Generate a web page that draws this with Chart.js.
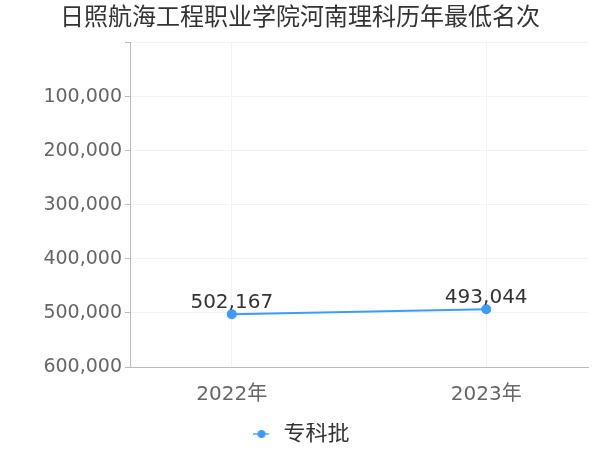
<!DOCTYPE html>
<html>
<head>
<meta charset="utf-8">
<script src="https://cdn.jsdelivr.net/npm/chart.js@4/dist/chart.umd.min.js"></script>
<style>
    html, body { margin: 0; padding: 0; background: #fff; }
    #wrap { width: 600px; height: 450px; }
</style>
</head>
<body>
<div id="wrap"><canvas id="rankChart" width="600" height="450"></canvas></div>
<script>
const titleText = '日照航海工程职业学院河南理科历年最低名次';
const years = ['2022年', '2023年'];
const seriesName = '专科批';
const minRanks = [502167, 493044];
const yTicks = [0, 100000, 200000, 300000, 400000, 500000, 600000];

const fontFamily = '"DejaVu Sans", "Noto Sans CJK SC", sans-serif';
const blue = '#3d9bff';

// legend marker: short line with a dot in the middle
const legendMark = document.createElement('canvas');
legendMark.width = 16;
legendMark.height = 10;
(function () {
    const c = legendMark.getContext('2d');
    c.strokeStyle = '#7cbcff';
    c.lineWidth = 2;
    c.beginPath();
    c.moveTo(0, 5);
    c.lineTo(16, 5);
    c.stroke();
    c.fillStyle = blue;
    c.beginPath();
    c.arc(8, 5, 4, 0, Math.PI * 2);
    c.fill();
})();

// value labels above each point
const pointLabels = {
    id: 'pointLabels',
    afterDatasetsDraw(chart) {
        const ctx = chart.ctx;
        const meta = chart.getDatasetMeta(0);
        ctx.save();
        ctx.font = '20px ' + fontFamily;
        ctx.fillStyle = '#333';
        ctx.textAlign = 'center';
        ctx.textBaseline = 'bottom';
        meta.data.forEach((pt, i) => {
            ctx.fillText(minRanks[i].toLocaleString('en-US'), pt.x, pt.y - 1);
        });
        ctx.restore();
    }
};

const ctx = document.getElementById('rankChart').getContext('2d');
const chart = new Chart(ctx, {
    type: 'line',
    data: {
        datasets: [{
            label: seriesName,
            data: minRanks.map((v, i) => ({ x: i, y: v })),
            borderColor: blue,
            backgroundColor: blue,
            borderWidth: 2,
            pointRadius: 4,
            pointHoverRadius: 4,
            pointStyle: 'circle',
            tension: 0
        }]
    },
    options: {
        responsive: false,
        animation: false,
        layout: { padding: { left: 12, right: 12, top: 0, bottom: -5 } },
        plugins: {
            title: {
                display: true,
                text: titleText,
                color: '#333',
                font: { family: fontFamily, size: 24, weight: 'normal' },
                padding: { top: 4, bottom: 10 }
            },
            legend: {
                display: true,
                position: 'bottom',
                labels: {
                    color: '#333',
                    font: { family: fontFamily, size: 22 },
                    usePointStyle: true,
                    pointStyle: legendMark,
                    padding: 0
                }
            },
            tooltip: { enabled: false }
        },
        scales: {
            x: {
                type: 'linear',
                min: -0.4,
                max: 1.4,
                afterBuildTicks: axis => {
                    axis.ticks = years.map((_, i) => ({ value: i }));
                },
                ticks: {
                    color: '#666',
                    font: { family: fontFamily, size: 20 },
                    padding: 16,
                    callback: v => years[v]
                },
                grid: { color: '#f2f2f2', drawTicks: false },
                border: { color: '#bbb' }
            },
            y: {
                reverse: true,
                min: 0,
                max: 600000,
                afterBuildTicks: axis => {
                    axis.ticks = yTicks.map(v => ({ value: v }));
                },
                afterFit: axis => {
                    axis.width = 118;
                },
                ticks: {
                    color: '#666',
                    font: { family: fontFamily, size: 19 },
                    padding: 3,
                    callback: v => v === 0 ? '' : v.toLocaleString('en-US')
                },
                grid: { color: '#f2f2f2', drawTicks: true, tickLength: 5, tickColor: '#bbb' },
                border: { color: '#bbb' }
            }
        }
    },
    plugins: [pointLabels]
});
</script>
</body>
</html>
